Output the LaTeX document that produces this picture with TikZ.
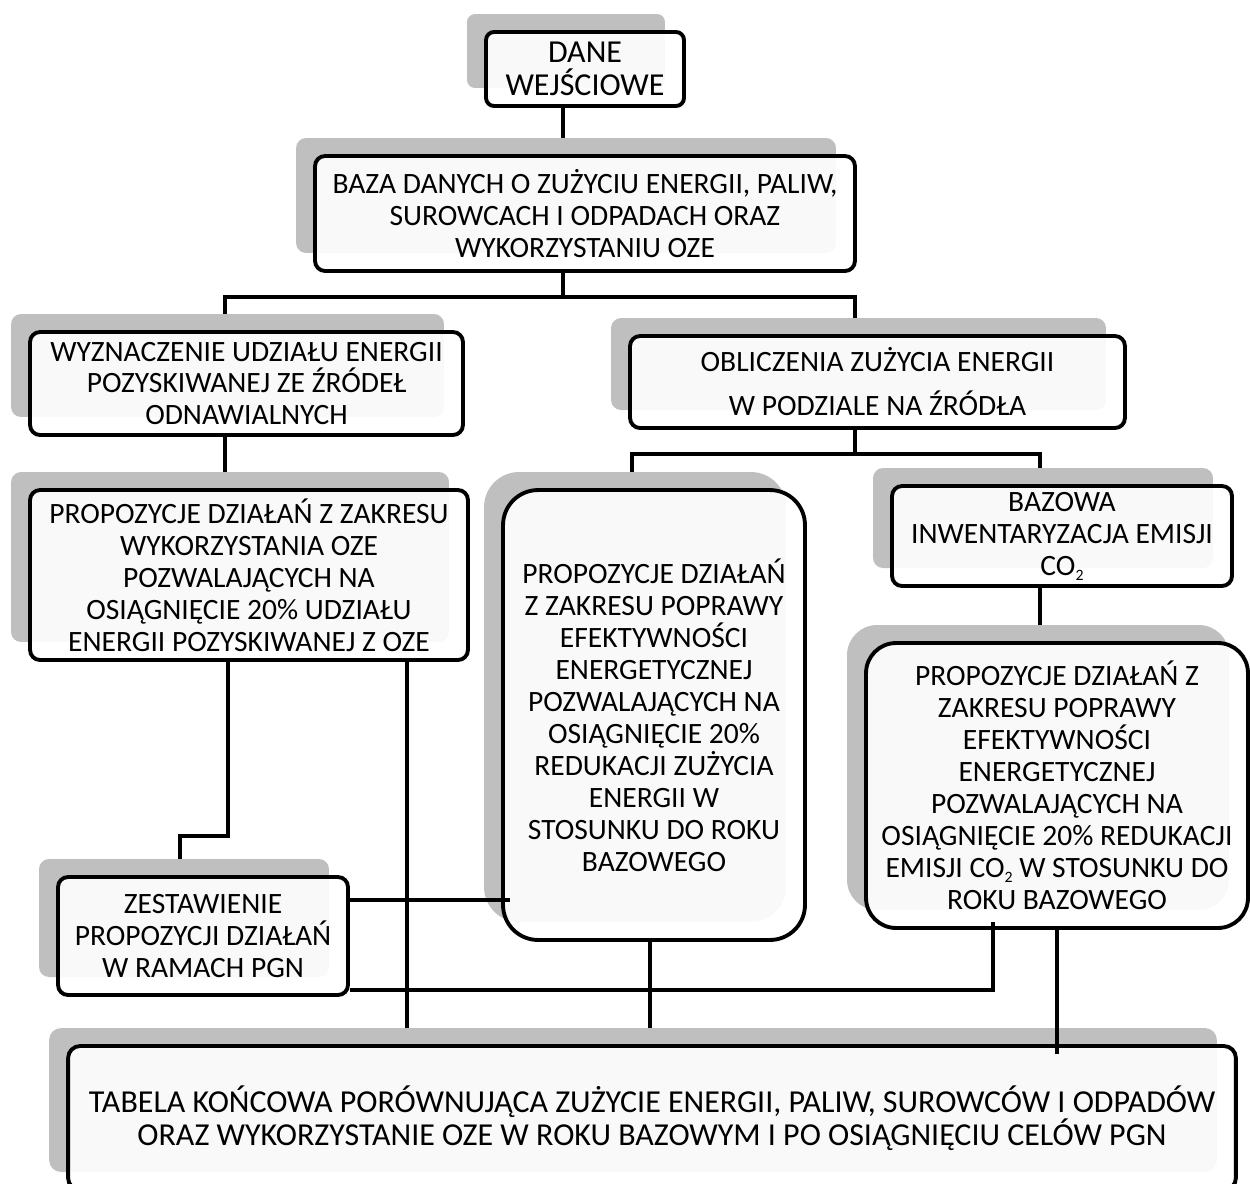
\documentclass[tikz,border=0pt]{standalone}
\usepackage{fontspec}
\setmainfont{Carlito}
\usetikzlibrary{calc,shadows}
\pgfdeclarelayer{background}
\pgfsetlayers{background,main}
\newcommand{\subtwo}{\raisebox{-0.35ex}{\fontsize{9}{9}\selectfont 2}}

\begin{document}
\begin{tikzpicture}[x=0.02cm, y=-0.02cm,
			box/.style={rectangle, rounded corners=0.2cm, draw=black, line width=2.2pt, fill=white, fill opacity=0.92, text opacity=1, align=center, inner sep=0pt, font=\fontsize{16.8}{18.2}\selectfont, drop shadow={shadow xshift=-0.38cm, shadow yshift=0.36cm, fill=gray!50, opacity=1}},
			bigtext/.style={font=\fontsize{18.2}{18.6}\selectfont},
			link/.style={draw=black, line width=2.2pt},
		]
		\useasboundingbox (0,0) rectangle (1250,1183);

			%Nodes
			\node[box, bigtext, rounded corners=0.16cm, minimum width=3.96cm, minimum height=1.48cm]	(dane)	at (585,69)	{DANE\\WEJŚCIOWE};
			\node[box, minimum width=10.8cm, minimum height=2.3cm]	(baza)	at (585,213.5)	{BAZA DANYCH O ZUŻYCIU ENERGII, PALIW,\\SUROWCACH I ODPADACH ORAZ\\WYKORZYSTANIU OZE};
			\node[box, minimum width=8.66cm, minimum height=2.06cm]	(wyzn)	at (246.5,383.5)	{WYZNACZENIE UDZIAŁU ENERGII\\POZYSKIWANEJ ZE ŹRÓDEŁ\\ODNAWIALNYCH};
			\node[box, minimum width=9.9cm, minimum height=1.84cm]	(oblicz)	at (877.5,382)	{OBLICZENIA ZUŻYCIA ENERGII\\[0.24cm]W PODZIALE NA ŹRÓDŁA};
			\node[box, minimum width=8.76cm, minimum height=3.4cm]	(ozeprop)	at (249,575)	{PROPOZYCJE DZIAŁAŃ Z ZAKRESU\\WYKORZYSTANIA OZE\\POZWALAJĄCYCH NA\\OSIĄGNIĘCIE 20\% UDZIAŁU\\ENERGII POZYSKIWANEJ Z OZE};
			\node[box, rounded corners=0.7cm, minimum width=6.04cm, minimum height=9cm]	(efprop)	at (654,715)	{PROPOZYCJE DZIAŁAŃ\\Z ZAKRESU POPRAWY\\EFEKTYWNOŚCI\\ENERGETYCZNEJ\\POZWALAJĄCYCH NA\\OSIĄGNIĘCIE 20\%\\REDUKACJI ZUŻYCIA\\ENERGII W\\STOSUNKU DO ROKU\\BAZOWEGO};
			\node[box, minimum width=6.8cm, minimum height=2cm]	(bazowa)	at (1062,536)	{BAZOWA\\INWENTARYZACJA EMISJI\\CO\subtwo};
			\node[box, rounded corners=0.6cm, minimum width=7.64cm, minimum height=5.7cm]	(co2prop)	at (1057,785.5)	{PROPOZYCJE DZIAŁAŃ Z\\ZAKRESU POPRAWY\\EFEKTYWNOŚCI\\ENERGETYCZNEJ\\POZWALAJĄCYCH NA\\OSIĄGNIĘCIE 20\% REDUKACJI\\EMISJI CO\subtwo{} W STOSUNKU DO\\ROKU BAZOWEGO};
			\node[box, minimum width=5.8cm, minimum height=2.36cm]	(zest)	at (203,936)	{ZESTAWIENIE\\PROPOZYCJI DZIAŁAŃ\\W RAMACH PGN};
			\node[box, bigtext, rounded corners=0.24cm, minimum width=23.36cm, minimum height=2.88cm]	(tabela)	at (652,1118)	{TABELA KOŃCOWA PORÓWNUJĄCA ZUŻYCIE ENERGII, PALIW, SUROWCÓW I ODPADÓW\\ORAZ WYKORZYSTANIE OZE W ROKU BAZOWYM I PO OSIĄGNIĘCIU CELÓW PGN};

			%Lines
			\begin{pgfonlayer}{background}
			\draw[link]	($(dane.south)+(-22,0)$) -- ($(baza.north)+(-22,0)$);
			\draw[link]	($(wyzn.north)+(-21.5,0)$) |- ($(baza.south)+(-22,24)$) -- ($(baza.south)+(-22,0)$);
			\draw[link]	($(baza.south)+(-22,24)$) -| ($(oblicz.north)+(-22.5,0)$);
			\draw[link]	($(wyzn.south)+(-21.5,0)$) -- ($(ozeprop.north)+(-24,0)$);
			\draw[link]	($(efprop.north)+(-22,0)$) |- ($(oblicz.south)+(-22.5,24)$) -- ($(oblicz.south)+(-22.5,0)$);
			\draw[link]	($(oblicz.south)+(-22.5,24)$) -| ($(bazowa.north)+(-22,0)$);
			\draw[link]	($(bazowa.south)+(-22,0)$) -- ($(co2prop.north)+(-17,0)$);
			\draw[link]	($(ozeprop.south)+(-21,0)$) |- ($(zest.north)+(-23,-39)$) -- ($(zest.north)+(-23,0)$);
			\draw[link]	($(ozeprop.south)+(158,0)$) coordinate (o1) -- (o1 |- tabela.north);
			\draw[link]	($(efprop.south)+(-4,0)$) coordinate (e1) -- (e1 |- tabela.north);
			\end{pgfonlayer}
			\draw[link]	($(zest.east)+(0,-36)$) coordinate (z1) -- ($(z1 -| efprop.west)+(9,0)$);
			\draw[link]	($(zest.east)+(0,54)$) -| ($(co2prop.south)+(-64,-8)$);
			\draw[link]	(co2prop.south) -- ($(co2prop.south |- tabela.north)+(0,10)$);

		\end{tikzpicture}
\end{document}
